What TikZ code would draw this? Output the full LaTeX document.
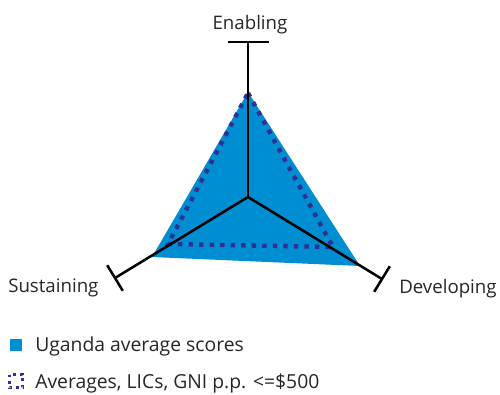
\documentclass[tikz,border=0pt]{standalone}
\usepackage{fontspec}
\setmainfont{Open Sans}
\usetikzlibrary{calc}
\definecolor{ublue}{RGB}{0,142,211}
\definecolor{navy}{RGB}{46,49,146}
\begin{document}
\begin{tikzpicture}[x=0.75pt,y=-0.75pt,
  axis/.style={line width=1.9pt,black},
  lbl/.style={font=\fontsize{14}{16}\selectfont,text=black!85,inner sep=0pt},
  leg/.style={font=\fontsize{14.5}{16}\selectfont,text=black!85,inner sep=0pt},
  avgline/.style={navy,line width=3.3pt,dash pattern=on 3.3pt off 4.6pt}]
\useasboundingbox (0,0) rectangle (500,394);
\coordinate (C) at (248,197);
\coordinate (T) at (248,42);
\coordinate (L) at (115,278);
\coordinate (R) at (382,279);
% Uganda
\fill[ublue] (248,92) -- (360,266) -- (152,257) -- cycle;
% averages
\draw[avgline] (248,93) -- (333,247) -- (168,244) -- cycle;
% axes
\draw[axis] (C) -- (T);
\draw[axis] (C) -- (L);
\draw[axis] (C) -- (R);
\draw[axis] ($(T)!20.5*0.75pt!90:(C)$) -- ($(T)!20.5*0.75pt!-90:(C)$);
\draw[axis] ($(L)!15*0.75pt!90:(C)$) -- ($(L)!15*0.75pt!-90:(C)$);
\draw[axis] ($(R)!15*0.75pt!90:(C)$) -- ($(R)!15*0.75pt!-90:(C)$);
% labels
\node[lbl,anchor=base] (te) at (250,29) {Enabling};
\node[lbl,anchor=base west] (ts) at (8,292) {Sustaining};
\node[lbl,anchor=base west] (td) at (399,293) {Developing};
% legend
\fill[ublue] (10,339) rectangle (22,351);
\node[leg,anchor=base west] (l1) at (35,351) {Uganda average scores};
\draw[navy,line width=2.2pt,dash pattern=on 2.2pt off 2.675pt] (9.5,374.5) rectangle (22.5,387.5);
\node[leg,anchor=base west] (l2) at (35,388) {Averages, LICs, GNI p.p. <=\$500};
\end{tikzpicture}
\end{document}
